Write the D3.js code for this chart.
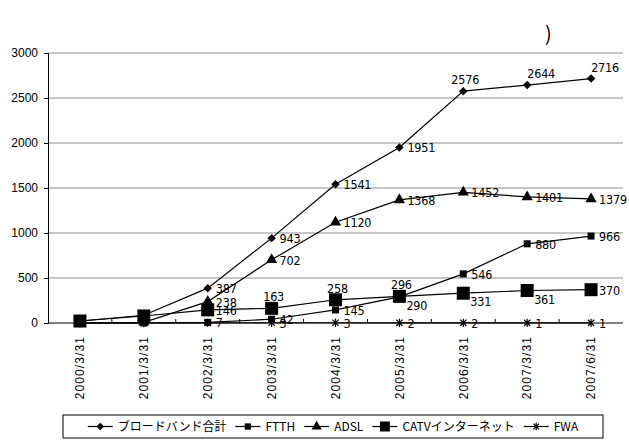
<!DOCTYPE html>
<html>
<head>
<meta charset="utf-8">
<script src="https://cdn.jsdelivr.net/npm/d3@7"></script>
<style>
  body { margin: 0; background: #fff; }
  svg { display: block; }
</style>
</head>
<body>
<svg id="chart"></svg>
<script>
// categories
const dates = ['2000/3/31', '2001/3/31', '2002/3/31', '2003/3/31', '2004/3/31',
  '2005/3/31', '2006/3/31', '2007/3/31', '2007/6/31'];
const yTicks = [0, 500, 1000, 1500, 2000, 2500, 3000];

// series values
const total = [22, 86, 387, 943, 1541, 1951, 2576, 2644, 2716];
const ftth = [0, 0, 7, 42, 145, 290, 546, 880, 966];
const adsl = [0, 7, 238, 702, 1120, 1368, 1452, 1401, 1379];
const catv = [22, 78, 146, 163, 258, 296, 331, 361, 370];
const fwa = [0, 0, 1, 3, 3, 2, 2, 1, 1];

// where each data label goes ('' = no label)
const totalPos = ['', '', 'r', 'r', 'r', 'r', 'a', 'ar', 'ar'];
const ftthPos = ['', '', 'r', 'r', 'r', 'br', 'r', 'r', 'r'];
const adslPos = ['', '', 'r', 'r', 'r', 'r', 'r', 'r', 'r'];
const catvPos = ['', '', 'r', 'a', 'a', 'a', 'br', 'br', 'r'];
const fwaPos = ['', '', '', 'r', 'r', 'r', 'r', 'r', 'r'];

// asterisk marker: X plus a vertical bar
const starSymbol = {
  draw(ctx, size) {
    const r = Math.sqrt(size) / 2;
    const d = r * 0.75;
    ctx.moveTo(-d, -d); ctx.lineTo(d, d);
    ctx.moveTo(-d, d); ctx.lineTo(d, -d);
    ctx.moveTo(0, -r); ctx.lineTo(0, r);
  }
};
// square diamond (rotated square)
const diamondSymbol = {
  draw(ctx, size) {
    const r = Math.sqrt(size / 2);
    ctx.moveTo(0, -r); ctx.lineTo(r, 0); ctx.lineTo(0, r); ctx.lineTo(-r, 0);
    ctx.closePath();
  }
};

const series = [
  { name: 'ブロードバンド合計', values: total, pos: totalPos, type: diamondSymbol, size: 36, stroke: false },
  { name: 'FTTH', values: ftth, pos: ftthPos, type: d3.symbolSquare, size: 49, stroke: false },
  { name: 'ADSL', values: adsl, pos: adslPos, type: d3.symbolTriangle, size: 55, stroke: false },
  { name: 'CATVインターネット', values: catv, pos: catvPos, type: d3.symbolSquare, size: 169, stroke: false },
  { name: 'FWA', values: fwa, pos: fwaPos, type: starSymbol, size: 70, stroke: true }
];

const W = 629, H = 442;
const margin = { top: 53, right: 6, bottom: 119, left: 48 };
const width = W - margin.left - margin.right;
const height = H - margin.top - margin.bottom;
const font = '"Noto Sans CJK JP", "Liberation Sans", sans-serif';
const latin = '"Liberation Sans", Arial, sans-serif';
const narrow = '"DejaVu Sans Condensed", "Liberation Sans", sans-serif';

const svg = d3.select('#chart').attr('width', W).attr('height', H)
  .style('font-family', font);

// truncated title remnant
svg.append('text')
  .attr('x', 545).attr('y', 41)
  .style('font-size', '20px')
  .text(')');

const x = d3.scaleBand().domain(dates).range([0, width]);
const y = d3.scaleLinear().domain([0, 3000]).range([height, 0]);
const cx = i => x(dates[i]) + x.bandwidth() / 2;

const g = svg.append('g')
  .attr('transform', `translate(${margin.left},${margin.top})`);

// gridlines
g.append('g')
  .selectAll('line')
  .data(yTicks.filter(t => t > 0))
  .enter().append('line')
  .attr('x1', 0).attr('x2', width)
  .attr('y1', d => y(d)).attr('y2', d => y(d))
  .attr('stroke', '#8c8c8c')
  .attr('stroke-width', 1);

// y axis
const yAxis = g.append('g')
  .call(d3.axisLeft(y).tickValues(yTicks).tickFormat(d3.format('d')).tickSize(4).tickPadding(6));
yAxis.select('.domain').attr('stroke', '#000');
yAxis.selectAll('text')
  .style('font-family', latin)
  .style('font-size', '12px');

// x axis line + boundary ticks
g.append('line')
  .attr('x1', 0).attr('x2', width)
  .attr('y1', height).attr('y2', height)
  .attr('stroke', '#000');
g.append('g')
  .selectAll('line')
  .data(dates.slice(1))
  .enter().append('line')
  .attr('x1', d => x(d)).attr('x2', d => x(d))
  .attr('y1', height).attr('y2', height - 4)
  .attr('stroke', '#000');

// x labels, rotated
g.append('g')
  .selectAll('text')
  .data(dates)
  .enter().append('text')
  .attr('transform', (d, i) => `translate(${cx(i)},${height + 13}) rotate(-90)`)
  .attr('text-anchor', 'end')
  .attr('dy', '0.36em')
  .style('font-family', latin)
  .style('font-size', '12px')
  .style('letter-spacing', '1.1px')
  .text(d => d);

const line = d3.line()
  .x((d, i) => cx(i))
  .y(d => y(d));

const symbolPath = s => d3.symbol().type(s.type).size(s.size)();

// lines, drawn back to front
series.slice().reverse().forEach(s => {
  g.append('path')
    .datum(s.values)
    .attr('fill', 'none')
    .attr('stroke', '#000')
    .attr('stroke-width', 1.2)
    .attr('d', line);
});

// markers
series.slice().reverse().forEach(s => {
  g.append('g')
    .selectAll('path')
    .data(s.values)
    .enter().append('path')
    .attr('transform', (d, i) => `translate(${cx(i)},${y(d)})`)
    .attr('d', symbolPath(s))
    .attr('fill', s.stroke ? 'none' : '#000')
    .attr('stroke', s.stroke ? '#000' : 'none')
    .attr('stroke-width', 1.2);
});

// data labels
const placeLabel = (sel, pos) => {
  if (pos === 'r') sel.attr('dx', 8).attr('dy', 5).attr('text-anchor', 'start');
  else if (pos === 'br') sel.attr('dx', 7).attr('dy', 13).attr('text-anchor', 'start');
  else if (pos === 'a') sel.attr('dx', 2).attr('dy', -7).attr('text-anchor', 'middle');
  else if (pos === 'ar') sel.attr('dx', 14).attr('dy', -7).attr('text-anchor', 'middle');
};

series.forEach(s => {
  s.values.forEach((v, i) => {
    if (!s.pos[i]) return;
    const t = g.append('text')
      .attr('x', cx(i))
      .attr('y', y(v))
      .style('font-family', narrow)
      .style('font-size', '12.5px')
      .style('letter-spacing', '-0.2px')
      .text(v);
    placeLabel(t, s.pos[i]);
  });
});

// legend
const legend = svg.append('g');
const legendItems = legend.append('g');
let lx = 0;
const segLen = 25;
series.forEach(s => {
  const item = legendItems.append('g').attr('transform', `translate(${lx},0)`);
  item.append('line')
    .attr('x1', 0).attr('x2', segLen)
    .attr('y1', 0).attr('y2', 0)
    .attr('stroke', '#000').attr('stroke-width', 1.2);
  item.append('path')
    .attr('transform', `translate(${segLen / 2},0)`)
    .attr('d', d3.symbol().type(s.type).size(s.name === 'CATVインターネット' ? 100 : s.size * 0.8)())
    .attr('fill', s.stroke ? 'none' : '#000')
    .attr('stroke', s.stroke ? '#000' : 'none')
    .attr('stroke-width', 1.2);
  const txt = item.append('text')
    .attr('x', segLen + 5)
    .attr('y', 0)
    .attr('dy', '0.36em')
    .style('font-size', '12px')
    .text(s.name);
  lx += segLen + 5 + txt.node().getComputedTextLength() + 9;
});
lx -= 9;

const boxX = 63, boxY = 415, boxW = 540, boxH = 23;
legend.insert('rect', ':first-child')
  .attr('x', boxX).attr('y', boxY)
  .attr('width', boxW).attr('height', boxH)
  .attr('fill', '#fff')
  .attr('stroke', '#000');
legendItems.attr('transform', `translate(${boxX + (boxW - lx) / 2},${boxY + boxH / 2})`);
</script>
</body>
</html>
